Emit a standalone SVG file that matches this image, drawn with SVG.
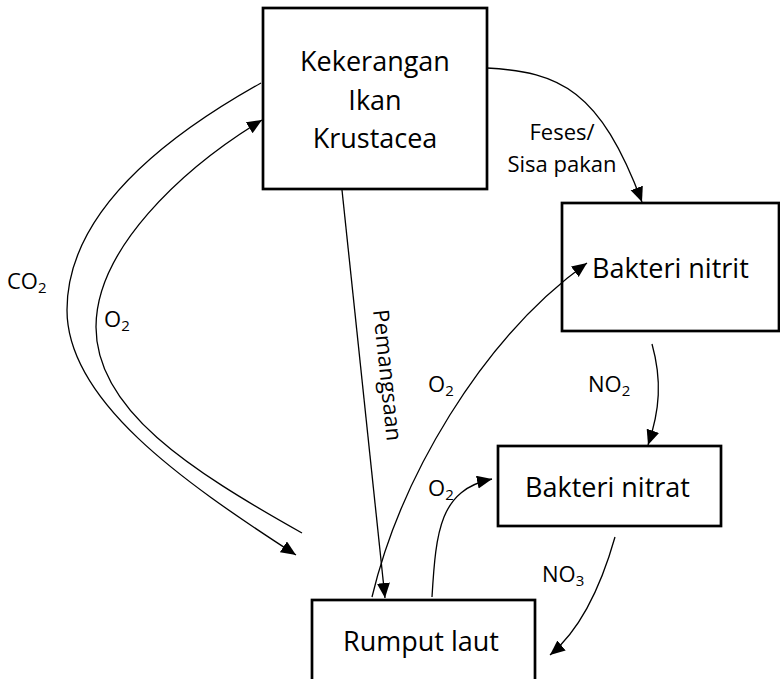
<svg xmlns="http://www.w3.org/2000/svg" width="780" height="679" viewBox="0 0 780 679">
<style>
.box{fill:#fff;stroke:#000;stroke-width:2.7}
.main{font-family:"Open Sans","Noto Sans",sans-serif;font-size:27px;fill:#000}
.lbl{font-family:"Open Sans","Noto Sans",sans-serif;font-size:22px;fill:#000}
.sub{font-size:15px}
.con{fill:none;stroke:#000;stroke-width:1.3}
</style>
<defs>
<marker id="ah" markerUnits="userSpaceOnUse" markerWidth="16" markerHeight="14" refX="15" refY="6.5" orient="auto">
<path d="M0,0 L15,6.5 L0,13 Z" fill="#000"/>
</marker>
</defs>
<rect width="780" height="679" fill="#fff"/>
<g id="kekerangan">
<rect class="box" x="263" y="8" width="224" height="181"/>
<text class="main" x="375" y="71" text-anchor="middle">Kekerangan</text>
<text class="main" x="375" y="110" text-anchor="middle">Ikan</text>
<text class="main" x="375" y="148" text-anchor="middle">Krustacea</text>
</g>
<g id="bakteri-nitrit">
<rect class="box" x="562" y="203" width="217" height="128"/>
<text class="main" x="592" y="278">Bakteri nitrit</text>
</g>
<g id="bakteri-nitrat">
<rect class="box" x="498" y="446" width="223" height="80"/>
<text class="main" x="525" y="497">Bakteri nitrat</text>
</g>
<g id="rumput-laut">
<rect class="box" x="312" y="600" width="223" height="95"/>
<text class="main" x="343" y="651">Rumput laut</text>
</g>
<g id="connectors">
<path class="con" d="M487,68 C560,72 600,90 642,202" marker-end="url(#ah)"/>
<path class="con" d="M261,83 C150,145 67,220 67,310 C67,400 180,480 296,555" marker-end="url(#ah)"/>
<path class="con" d="M302,533 C190,470 96,410 96,327 C96,250 180,170 262,120" marker-end="url(#ah)"/>
<path class="con" d="M342,190 L385,598" marker-end="url(#ah)"/>
<path class="con" d="M372,597 C400,480 480,340 587,263" marker-end="url(#ah)"/>
<path class="con" d="M432,597 C436,530 440,490 492,479" marker-end="url(#ah)"/>
<path class="con" d="M652,344 C662,380 660,410 648,445" marker-end="url(#ah)"/>
<path class="con" d="M615,537 C600,590 580,630 550,655" marker-end="url(#ah)"/>
</g>
<g id="labels">
<text class="lbl" x="562" y="140" text-anchor="middle">Feses/</text>
<text class="lbl" x="562" y="172" text-anchor="middle">Sisa pakan</text>
<text class="lbl" x="7" y="289">CO<tspan class="sub" dy="4">2</tspan></text>
<text class="lbl" x="104" y="327">O<tspan class="sub" dy="4">2</tspan></text>
<text class="lbl" transform="translate(380,376) rotate(84)" text-anchor="middle">Pemangsaan</text>
<text class="lbl" x="428" y="392">O<tspan class="sub" dy="4">2</tspan></text>
<text class="lbl" x="428" y="496">O<tspan class="sub" dy="4">2</tspan></text>
<text class="lbl" x="588" y="392">NO<tspan class="sub" dy="4">2</tspan></text>
<text class="lbl" x="542" y="582">NO<tspan class="sub" dy="4">3</tspan></text>
</g>
</svg>
